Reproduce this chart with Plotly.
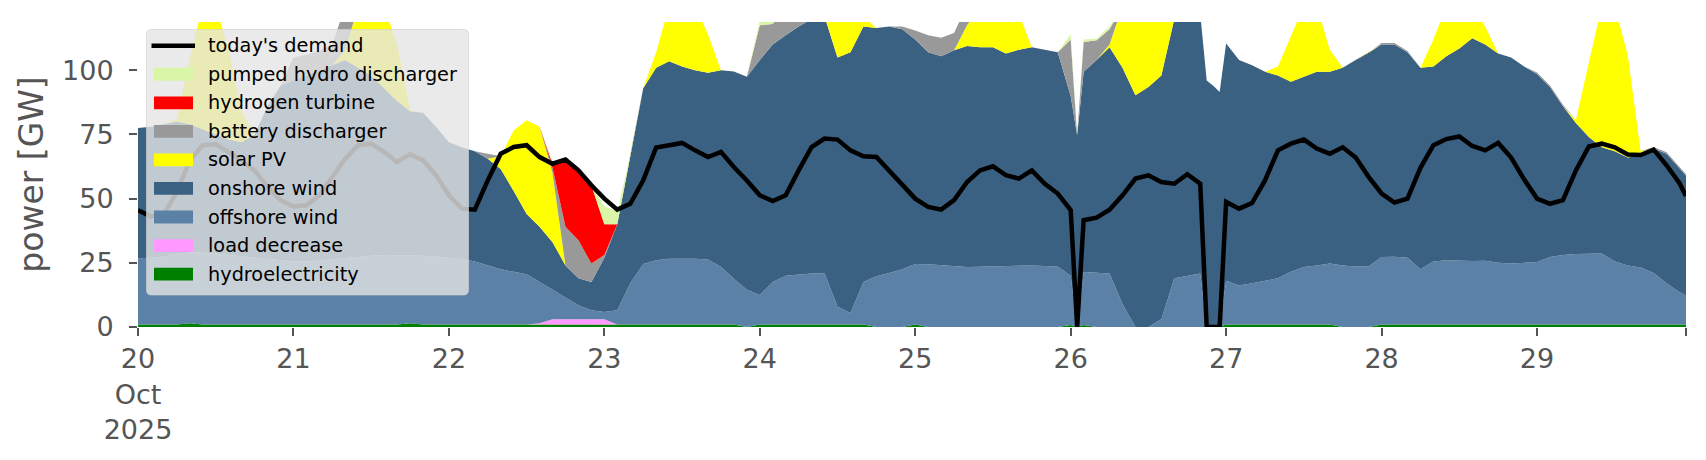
import pandas as pd
import plotly.graph_objects as go

# hours after 20 Oct 2025 00:00 (2-hourly, plus the odd hours around the glitches on the 26th)
HOURS = [
    0, 2, 4, 6, 8, 10, 12, 14, 16, 18, 20, 22,
    24, 26, 28, 30, 32, 34, 36, 38, 40, 42, 44, 46,
    48, 50, 52, 54, 56, 58, 60, 62, 64, 66, 68, 70,
    72, 74, 76, 78, 80, 82, 84, 86, 88, 90, 92, 94,
    96, 98, 100, 102, 104, 106, 108, 110, 112, 114, 116, 118,
    120, 122, 124, 126, 128, 130, 132, 134, 136, 138, 140, 142,
    144, 145, 146, 148, 150, 152, 154, 156, 158, 160, 162, 164, 165, 166, 167,
    168, 170, 172, 174, 176, 178, 180, 182, 184, 186, 188, 190,
    192, 194, 196, 198, 200, 202, 204, 206, 208, 210, 212, 214,
    216, 218, 220, 222, 224, 226, 228, 230, 232, 234, 236, 238, 239,
]

DEMAND = [
    45.5, 43.1, 43.9, 52.6, 64.9, 70.8, 71.2, 68.2, 64.9, 61, 54.5, 49.4,
    47, 47.4, 51.3, 58.4, 65.6, 70.8, 71.4, 68.2, 64.3, 67.3, 64.9, 59.1,
    51.3, 46.1, 45.7, 57.1, 67.5, 70.1, 70.8, 66.2, 63.6, 65.2, 61, 55.2,
    50, 45.7, 48, 57.1, 69.9, 70.8, 71.7, 68.8, 66.2, 68.2, 62.3, 57.1,
    51.3, 49.1, 51.3, 61, 70.1, 73.4, 73, 68.8, 66.5, 66.2, 61, 55.8,
    50, 46.8, 45.7, 49.4, 56.5, 61, 62.6, 59.1, 57.8, 61, 55.8, 52,
    45.5, 0, 41.6, 42.6, 45.7, 51.3, 57.8, 59.1, 56.5, 55.8, 59.5, 55.8, 0, 0, 0,
    48.7, 46.1, 48.3, 57.1, 68.8, 71.4, 73, 69.5, 67.5, 70, 66, 58.5,
    52, 48.5, 50, 62, 70.8, 73.2, 74.2, 70.5, 68.8, 71.7, 66, 57.5,
    50, 48, 49.4, 61, 70.3, 71.4, 70, 67.2, 67, 69.1, 63, 56, 51,
]

HYDRO = [
    1, 1, 1, 1, 1.5, 1, 1, 1, 1, 1, 1, 1,
    1, 1, 1, 1, 1, 1, 1, 1, 1, 1.5, 1, 1,
    1, 1, 1, 1, 1, 1, 1, 1, 1, 1, 1, 1,
    1, 1, 1, 1, 1, 1, 1, 1, 1, 1, 1, 0,
    1, 1, 1, 1, 1, 1, 1, 1, 1, 0, 0, 0,
    1, 0, 0, 0, 0, 0, 0, 0, 0, 0, 0, 0,
    0.8, 0, 0.8, 0, 0, 0, 0, 0, 0, 0, 0, 0, 0, 0, 0,
    1, 1, 1, 1, 1, 1, 1, 1, 1, 0, 0, 0,
    1, 1, 1, 1, 1, 1, 1, 1, 1, 1, 1, 1,
    1, 1, 1, 1, 1, 1, 1, 1, 1, 1, 1, 1, 1,
]

LOAD_DECREASE = [
    0, 0, 0, 0, 0, 0, 0, 0, 0, 0, 0, 0,
    0, 0, 0, 0, 0, 0, 0, 0, 0, 0, 0, 0,
    0, 0, 0, 0, 0, 0, 0, 0.5, 2, 2, 2, 2,
    2, 0, 0, 0, 0, 0, 0, 0, 0, 0, 0, 0,
    0, 0, 0, 0, 0, 0, 0, 0, 0, 0, 0, 0,
    0, 0, 0, 0, 0, 0, 0, 0, 0, 0, 0, 0,
    0, 0, 0, 0, 0, 0, 0, 0, 0, 0, 0, 0, 0, 0, 0,
    0, 0, 0, 0, 0, 0, 0, 0, 0, 0, 0, 0,
    0, 0, 0, 0, 0, 0, 0, 0, 0, 0, 0, 0,
    0, 0, 0, 0, 0, 0, 0, 0, 0, 0, 0, 0, 0,
]

OFFSHORE = [
    25.8, 26, 26.5, 27.5, 27.5, 28, 27.5, 27, 26.5, 26, 25.5, 25,
    24.5, 24.5, 25, 25.5, 26, 26.5, 26.8, 27, 27, 26.5, 26.8, 26.5,
    26, 25.5, 24.5, 23, 21.5, 20.5, 19.5, 16, 11.5, 8.5, 5.5, 3.5,
    2.8, 5.5, 16, 23.5, 25, 25.6, 25.6, 25.6, 25.3, 22.5, 17.8, 14.5,
    11.5, 16.5, 19, 19.5, 19.8, 19.8, 7, 4.5, 16.5, 19.8, 21, 22.5,
    23.5, 24.4, 24, 23.6, 23.4, 23.5, 23.6, 23.8, 24, 24, 23.8, 23.6,
    19.2, 0, 20.6, 21, 20.8, 9, 0, 0, 3, 19, 20, 20.8, 0, 0, 0,
    17, 15.2, 16, 17, 18, 20.5, 22.4, 23, 23.7, 24, 23.6, 23.6,
    26.3, 26.4, 26, 21.5, 24.5, 25, 24.8, 24.7, 24.8, 24, 23.7, 24,
    24.3, 26.3, 27, 27.4, 27.6, 27.6, 24.5, 23, 22.2, 20, 16, 12.5, 11.3,
]

ONSHORE = [
    50.7, 51, 51.5, 51.5, 50, 48, 46.5, 45, 44.5, 48, 59.5, 68,
    70.5, 72.5, 74, 75.5, 77, 73.5, 70.2, 65, 60, 56, 55.7, 50.5,
    45, 43.5, 43, 41.5, 39, 31.5, 23.5, 21.5, 18.5, 12.5, 10.5, 11,
    21.2, 33.5, 50, 68.5, 75, 76.9, 74.9, 73.4, 72.7, 76.5, 80.7, 83,
    91.5, 92.5, 93.6, 96.5, 99.2, 100.2, 97, 101.5, 99.5, 96.7, 96, 93.5,
    87.5, 82.6, 81.5, 84.2, 86.1, 85.5, 85.4, 82.7, 84, 85, 84.2, 83.4,
    70, 74.7, 78, 83, 88.2, 92, 90.3, 93.5, 95, 101, 105, 101.2, 96, 94, 91.5,
    92.4, 87.8, 85, 81.4, 79, 74, 74.1, 75.4, 74.7, 77, 80.4, 83.2,
    82.7, 82.6, 80, 78.5, 76, 79.5, 82.7, 86.8, 84.2, 81.5, 80.3, 76.5,
    73.2, 66.2, 58, 51.1, 45.4, 41.4, 43, 42, 43.8, 48.5, 50.5, 48.5, 46.7,
]

SOLAR = [
    0, 0, 0, 1, 26, 48, 50, 35, 12, 0, 0, 0,
    0, 0, 0, 0, 4, 24, 27, 32, 22, 0.5, 0, 0,
    0, 0, 0, 0, 5, 23.5, 36.5, 39, 27, 0, 0, 0,
    0, 0, 0, 0, 6, 21.5, 23.5, 25, 15, 0, 0, 0,
    0, 0, 0, 0, 0, 8, 20, 18, 4, 0, 0, 0,
    0, 0, 0, 0, 8, 16, 18, 20, 14, 0, 0, 0,
    0, 0, 0, 0, 1, 24, 35, 32, 27, 5, 0, 0, 0, 0, 0,
    0, 0, 0, 0, 3.5, 17.5, 27.5, 25.6, 8.6, 0, 0, 0,
    0, 0, 0, 0, 10.5, 19.5, 16.5, 12.5, 7, 0, 0, 0,
    0, 0, 0, 1, 29, 55, 56.5, 40, 1.5, 0, 0, 0, 0,
]

BATTERY = [
    0, 0, 0, 0, 0, 0, 0, 0, 0, 0, 0, 0,
    9, 8, 7.5, 8, 17, 0, 0, 0, 0, 0, 0, 0,
    0, 0, 0, 2, 0, 0, 0, 0, 2, 15, 14.8, 7.2,
    1, 0, 0, 0, 0, 0, 0, 0, 0, 0, 0, 0,
    13.5, 8, 11.4, 8, 0, 0, 0, 0, 0, 0, 0, 1,
    3.5, 6.6, 7.2, 6.7, 8, 0, 0, 0, 0, 0, 0, 0,
    22, 0, 11.6, 7.7, 6, 0, 0, 0, 0, 0, 0, 0, 0, 0, 0,
    0, 0, 0, 0, 0, 0, 0, 0, 0, 0, 0, 0,
    0.6, 0.6, 0.5, 0, 0, 0, 0, 0, 0, 0, 0, 0,
    0.6, 0.6, 0.6, 0, 0, 0, 0, 0, 0, 0.6, 0.6, 0.6, 0.5,
]

HYDROGEN = [
    0, 0, 0, 0, 0, 0, 0, 0, 0, 0, 0, 0,
    0, 0, 0, 0, 0, 0, 0, 0, 0, 0, 0, 0,
    0, 0, 0, 0, 0, 0, 0, 0, 1.5, 25.3, 27.2, 30.5,
    12, 0, 0, 0, 0, 0, 0, 0, 0, 0, 0, 0,
    0, 0, 0, 0, 0, 0, 0, 0, 0, 0, 0, 0,
    0, 0, 0, 0, 0, 0, 0, 0, 0, 0, 0, 0,
    0, 0, 0, 0, 0, 0, 0, 0, 0, 0, 0, 0, 0, 0, 0,
    0, 0, 0, 0, 0, 0, 0, 0, 0, 0, 0, 0,
    0, 0, 0, 0, 0, 0, 0, 0, 0, 0, 0, 0,
    0, 0, 0, 0, 0, 0, 0, 0, 0, 0, 0, 0, 0,
]

PUMPED_HYDRO = [
    0, 0, 0, 0, 0, 0, 0, 0, 0, 0, 0, 0,
    0, 0, 0, 0, 0, 0, 0, 0, 0, 0, 0, 0,
    0, 0, 0, 0, 0, 0, 0, 0, 1, 0, 0, 0,
    7, 5, 0, 0, 0, 0, 0, 0, 0, 0, 0, 0,
    2, 2, 0, 0, 0, 0, 0, 0, 0, 0, 0, 0,
    0, 0, 0, 0, 0, 0, 0, 0, 0, 0, 0, 0,
    2, 0, 1, 0.6, 1, 0, 0, 0, 0, 0, 0, 0, 0, 0, 0,
    0, 0, 0, 0, 0, 0, 0, 0, 0, 0, 0, 0,
    0, 0, 0, 0, 0, 0, 0, 0, 0, 0, 0, 0,
    0, 0, 0, 0, 0, 0, 0, 0, 0, 0, 0, 0, 0,
]

DAY_TICKS = ["20<br>Oct<br>2025", "21", "22", "23", "24", "25", "26", "27", "28", "29"]

# stack order, bottom first
LAYERS = [
    ("hydroelectricity", HYDRO, "#008000"),
    ("load decrease", LOAD_DECREASE, "#ff99ff"),
    ("offshore wind", OFFSHORE, "#5b82a6"),
    ("onshore wind", ONSHORE, "#3a6182"),
    ("solar PV", SOLAR, "#ffff00"),
    ("battery discharger", BATTERY, "#999999"),
    ("hydrogen turbine", HYDROGEN, "#ff0000"),
    ("pumped hydro discharger", PUMPED_HYDRO, "#d9f5a6"),
]

# the page body adds an 8px offset, so margins are trimmed by that much
PAD = 8
PLOT_L, PLOT_R, PLOT_T, PLOT_B = 138, 1686, 22, 327   # plot box in page pixels
PW, PH = PLOT_R - PLOT_L, PLOT_B - PLOT_T
L, T, R, B = PLOT_L - PAD, PLOT_T - PAD, 12, 125
W, H = L + PW + R, T + PH + B
TEXT = "#555555"

start = pd.Timestamp("2025-10-20")
x = start + pd.to_timedelta(HOURS, unit="h")
x_end = start + pd.Timedelta(hours=HOURS[-1])

fig = go.Figure()
for name, vals, col in LAYERS:
    fig.add_scatter(x=x, y=vals, name=name, mode="lines", stackgroup="gen",
                    line=dict(width=0, color=col), fillcolor=col, showlegend=False)
fig.add_scatter(x=x, y=DEMAND, name="today's demand", mode="lines",
                line=dict(color="black", width=4.5), showlegend=False)


# hand-drawn legend (matplotlib look: wide patches, translucent rounded box)
def px(v):
    return (v - PLOT_L) / PW


def py(v):
    return (PLOT_B - v) / PH


def rounded_box(x0, y0, x1, y1, r=5):
    rx, ry = r / PW, r / PH
    a, b, c, d = px(x0), px(x1), py(y1), py(y0)
    return (f"M{a + rx},{c} L{b - rx},{c} Q{b},{c} {b},{c + ry} "
            f"L{b},{d - ry} Q{b},{d} {b - rx},{d} L{a + rx},{d} "
            f"Q{a},{d} {a},{d - ry} L{a},{c + ry} Q{a},{c} {a + rx},{c} Z")


shapes = [dict(type="path", xref="paper", yref="paper", layer="above",
               path=rounded_box(146.5, 29.5, 468.5, 295),
               fillcolor="rgba(229,229,229,0.8)", line=dict(width=0.8, color="rgba(210,210,210,0.8)"))]
annotations = []
entries = [("today's demand", None)] + [(n, c) for n, _, c in LAYERS[::-1]]
for i, (label, col) in enumerate(entries):
    yc = 45.7 + i * 28.55
    if col is None:
        shapes.append(dict(type="line", xref="paper", yref="paper", layer="above",
                           x0=px(151.5), x1=px(195), y0=py(yc), y1=py(yc),
                           line=dict(color="black", width=4.5)))
    else:
        shapes.append(dict(type="rect", xref="paper", yref="paper", layer="above",
                           x0=px(154), x1=px(193), y0=py(yc - 6.4), y1=py(yc + 6.4),
                           fillcolor=col, line=dict(width=0)))
    annotations.append(dict(text=label, xref="paper", yref="paper", x=px(206), y=py(yc),
                            xanchor="left", yanchor="middle", showarrow=False,
                            font=dict(size=19.3, color="black")))

fig.update_layout(
    width=W, height=H,
    margin=dict(l=L, r=R, t=T, b=B, autoexpand=False),
    paper_bgcolor="white", plot_bgcolor="white",
    font=dict(family="DejaVu Sans", color=TEXT, size=26),
    showlegend=False,
    shapes=shapes, annotations=annotations,
)
fig.update_xaxes(
    type="date", range=[start, x_end], automargin=False,
    tickvals=list(start + pd.to_timedelta(range(0, 240, 24), unit="h")) + [x_end],
    ticktext=DAY_TICKS + [""],
    ticks="outside", ticklen=8, tickwidth=1.5, tickcolor=TEXT,
    tickfont=dict(size=27, color=TEXT),
    showline=False, showgrid=False, zeroline=False,
)
fig.update_yaxes(
    range=[0, 118.8], tickvals=[0, 25, 50, 75, 100], automargin=False,
    ticks="outside", ticklen=8, tickwidth=1.5, tickcolor=TEXT,
    tickfont=dict(size=27, color=TEXT), ticklabelstandoff=10,
    showline=False, showgrid=False, zeroline=False,
    title=dict(text="power [GW]", font=dict(size=33, color=TEXT), standoff=8),
)

fig.write_html("out.html")
